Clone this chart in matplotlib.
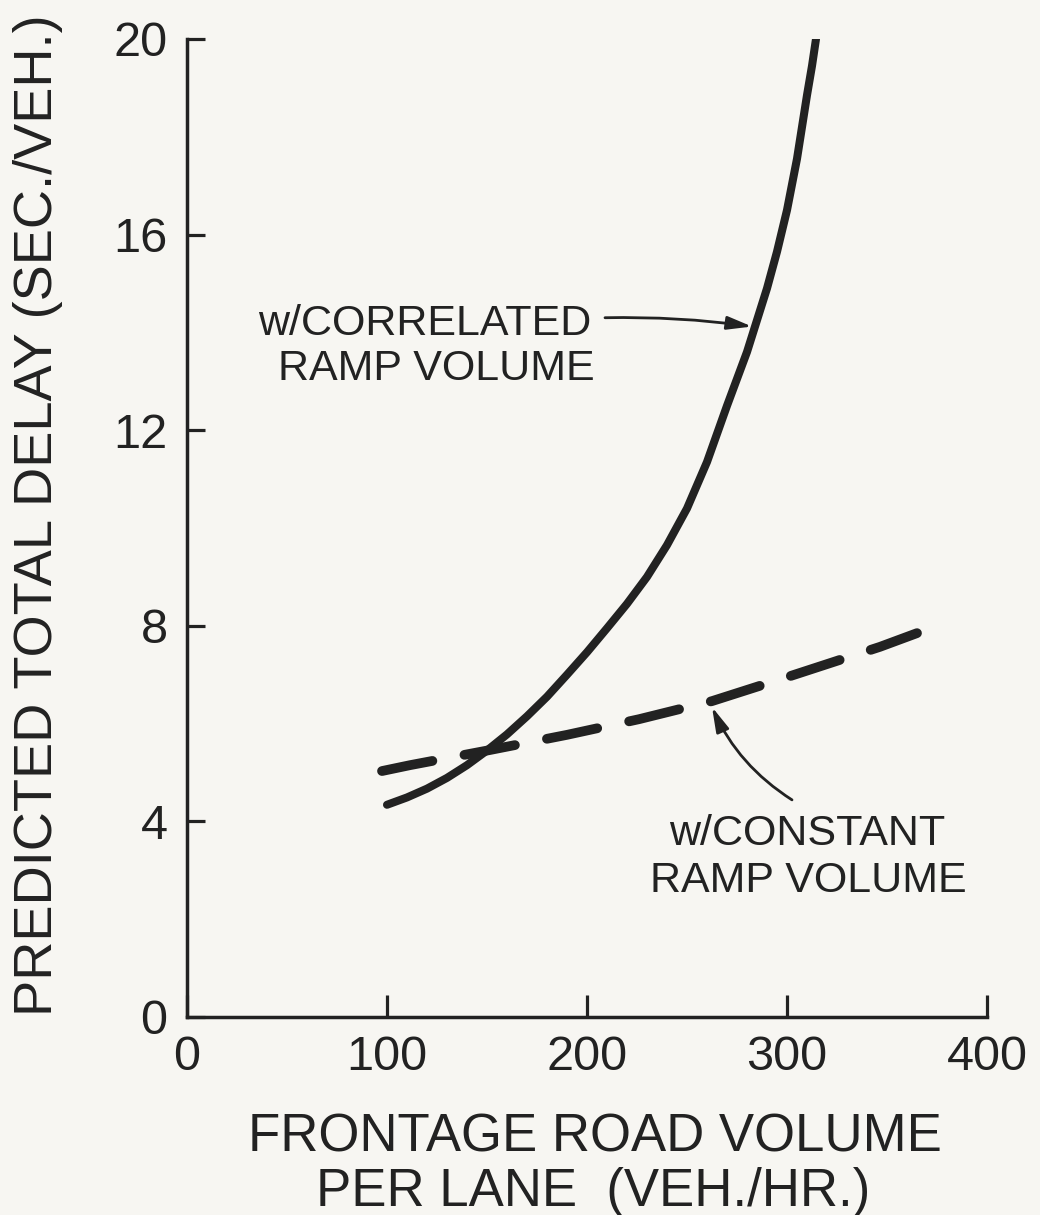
import matplotlib
matplotlib.use("Agg")
import matplotlib.pyplot as plt

# ---- data ----
corr_x = [100, 110, 120, 130, 140, 150, 160, 170, 180, 190, 200, 210, 220, 230,
          240, 250, 260, 270, 280, 290, 295, 300, 305, 310, 312.5, 314.5]
corr_y = [4.34, 4.49, 4.67, 4.89, 5.15, 5.45, 5.78, 6.15, 6.55, 7.0, 7.46, 7.95,
          8.45, 9.0, 9.65, 10.4, 11.35, 12.5, 13.6, 14.9, 15.65, 16.5, 17.55,
          18.85, 19.45, 20.0]

const_x = [97.5, 111.5, 151.5, 190, 226, 262.5, 300, 346.5, 365]
const_y = [5.03, 5.15, 5.46, 5.77, 6.09, 6.46, 6.95, 7.57, 7.85]

x_ticks = [0, 100, 200, 300, 400]
y_ticks = [0, 4, 8, 12, 16, 20]

x_label_lines = ["FRONTAGE ROAD VOLUME", "PER LANE  (VEH./HR.)"]
y_label = "PREDICTED TOTAL DELAY (SEC./VEH.)"
corr_label = ["w/CORRELATED", "RAMP VOLUME"]
const_label = ["w/CONSTANT", "RAMP VOLUME"]

# ---- style ----
FONT = "Liberation Sans"
INK = "#222222"
BG = "#f7f6f2"
plt.rcParams["font.family"] = [FONT, "DejaVu Sans"]
plt.rcParams["lines.scale_dashes"] = False

W, H = 1040, 1215
fig = plt.figure(figsize=(W / 100, H / 100), dpi=100, facecolor=BG)
ax = fig.add_axes([187 / W, (H - 1017) / H, 800 / W, 978 / H], facecolor=BG)
ax.set_xlim(0, 400)
ax.set_ylim(0, 20)

for s in ("top", "right"):
    ax.spines[s].set_visible(False)
for s in ("left", "bottom"):
    ax.spines[s].set_linewidth(2.5)
    ax.spines[s].set_color(INK)
    ax.spines[s].set_capstyle("projecting")

ax.set_xticks(x_ticks)
ax.set_yticks(y_ticks)
ax.set_xticklabels([str(v) for v in x_ticks])
ax.set_yticklabels([str(v) for v in y_ticks])
ax.tick_params(axis="x", direction="in", length=16, width=2.3, color=INK,
               labelsize=35, pad=13, labelcolor=INK)
ax.tick_params(axis="y", direction="in", length=13, width=2.3, color=INK,
               labelsize=35, pad=14, labelcolor=INK)

# curves
ax.plot(corr_x, corr_y, color=INK, lw=5.8, solid_capstyle="round",
        solid_joinstyle="round", zorder=3)
ax.plot(const_x, const_y, color=INK, lw=7, dash_capstyle="round",
        dashes=(37, 23.5), zorder=3)

# annotation texts
tk = dict(fontsize=31, color=INK, ha="center", va="baseline")
ax.text(119, 13.95, corr_label[0], **tk)
ax.text(124.5, 13.03, corr_label[1], **tk)
ax.text(310, 3.52, const_label[0], **tk)
ax.text(310.5, 2.56, const_label[1], **tk)

# arrows
ax.annotate("", xy=(282.5, 14.12), xytext=(209, 14.3),
            arrowprops=dict(arrowstyle="-|>,head_length=1.5,head_width=0.4",
                            lw=2.0, color=INK, shrinkA=0, shrinkB=0,
                            connectionstyle="arc3,rad=-0.04"))
ax.annotate("", xy=(262.5, 6.34), xytext=(302.5, 4.44),
            arrowprops=dict(arrowstyle="-|>,head_length=1.5,head_width=0.4",
                            lw=2.0, color=INK, shrinkA=0, shrinkB=0,
                            connectionstyle="arc3,rad=-0.15"))

# axis labels
fig.text(595 / W, (H - 1152) / H, x_label_lines[0], fontsize=38, color=INK,
         ha="center", va="baseline")
fig.text(593 / W, (H - 1206) / H, x_label_lines[1], fontsize=38, color=INK,
         ha="center", va="baseline")
fig.text(38 / W, (H - 515) / H, y_label, fontsize=39, color=INK, rotation=90,
         ha="center", va="center")

fig.savefig("out.png", dpi=100, facecolor=BG)
